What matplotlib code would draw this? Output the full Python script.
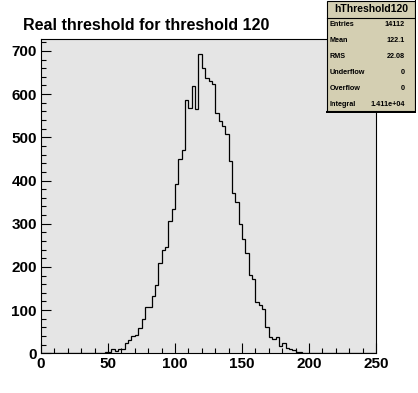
import numpy as np
import matplotlib
matplotlib.use("Agg")
import matplotlib.pyplot as plt
from matplotlib.ticker import MultipleLocator
from matplotlib.patches import Rectangle

plt.rcParams["font.family"] = ["Liberation Sans", "DejaVu Sans"]
plt.rcParams["font.weight"] = "bold"

# -------------------------
# Data
# -------------------------
hist_name = "hThreshold120"
title = "Real threshold for threshold 120"
x_lo, x_hi, n_bins = 0, 250, 100

# counts per bin, bin index -> count (all other bins empty)
bin_counts = {
    15: 1, 16: 1, 18: 1, 19: 2,
    20: 4, 21: 9, 22: 5, 23: 10, 24: 11,
    25: 25, 26: 31, 27: 39, 28: 43, 29: 59,
    30: 79, 31: 107, 32: 107, 33: 132, 34: 157,
    35: 208, 36: 238, 37: 247, 38: 306, 39: 334,
    40: 391, 41: 450, 42: 471, 43: 586, 44: 568,
    45: 618, 46: 565, 47: 693, 48: 660, 49: 637,
    50: 631, 51: 624, 52: 556, 53: 538, 54: 526,
    55: 507, 56: 445, 57: 371, 58: 350, 59: 300,
    60: 264, 61: 232, 62: 181, 63: 172, 64: 118,
    65: 111, 66: 103, 67: 61, 68: 37, 69: 32,
    70: 38, 71: 18, 72: 23, 73: 12, 74: 9,
    75: 7, 76: 4, 77: 3,
}

stat_labels = ["Entries", "Mean", "RMS", "Underflow", "Overflow", "Integral"]
stat_values = ["14112", "122.1", "22.08", "0", "0", "1.411e+04"]

counts = np.zeros(n_bins)
for i, c in bin_counts.items():
    counts[i] = c
edges = np.linspace(x_lo, x_hi, n_bins + 1)

# -------------------------
# Figure
# -------------------------
W, H = 418, 393
fig = plt.figure(figsize=(W / 100, H / 100), dpi=100)
fig.patch.set_facecolor("white")

def fx(px):
    return px / W

def fy(py):
    return 1 - py / H

ax = fig.add_axes([fx(41), fy(353.3), fx(376) - fx(41), fy(39) - fy(353.3)])
ax.set_facecolor("#e5e5e5")

ax.stairs(counts, edges, color="black", linewidth=0.9, baseline=0)

ax.set_xlim(x_lo, x_hi)
ax.set_ylim(0, counts.max() * 1.05)

ax.xaxis.set_major_locator(MultipleLocator(50))
ax.xaxis.set_minor_locator(MultipleLocator(10))
ax.yaxis.set_major_locator(MultipleLocator(100))
ax.yaxis.set_minor_locator(MultipleLocator(20))

ax.tick_params(which="both", direction="in", top=False, right=False,
               width=0.8, colors="black")
ax.tick_params(which="major", length=7.2, labelsize=11, pad=3)
ax.tick_params(which="minor", length=3.6)
for lab in ax.get_xticklabels() + ax.get_yticklabels():
    lab.set_fontweight("bold")
for sp in ax.spines.values():
    sp.set_linewidth(0.8)

fig.text(fx(23), fy(30), title, fontsize=11.5, fontweight="bold",
         ha="left", va="baseline")

# -------------------------
# Stats box
# -------------------------
sb = fig.add_axes([fx(326), fy(113), fx(416) - fx(326), fy(0) - fy(113)])
sb.set_xlim(326, 416)
sb.set_ylim(113, 0)
sb.set_axis_off()
sb.add_patch(Rectangle((326.5, 0.5), 88, 111, facecolor="#d4cfb2",
                       edgecolor="black", linewidth=0.8))
sb.plot([327, 415.5, 415.5], [112.3, 112.3, 1], color="black", linewidth=1.5)
sb.plot([326.5, 414.5], [17.5, 17.5], color="black", linewidth=0.8)
sb.text(371, 9.5, hist_name, fontsize=7.5, fontweight="bold",
        ha="center", va="center")
for k, (lab, val) in enumerate(zip(stat_labels, stat_values)):
    yy = 25 + 16 * k
    sb.text(330, yy, lab, fontsize=5.2, fontweight="bold", ha="left", va="center")
    sb.text(405, yy, val, fontsize=5.2, fontweight="bold", ha="right", va="center")

fig.savefig("out.png", dpi=100)
